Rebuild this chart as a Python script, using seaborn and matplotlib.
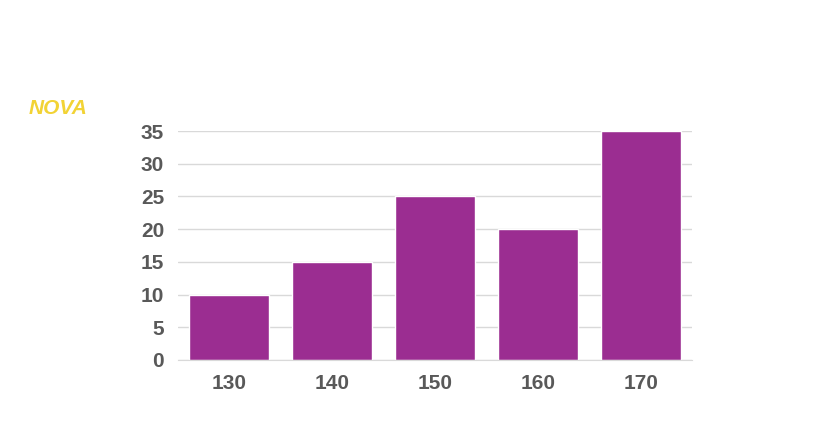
import matplotlib
matplotlib.use("Agg")
import matplotlib.pyplot as plt
import seaborn as sns
import pandas as pd

categories = ["130", "140", "150", "160", "170"]
values = [10, 15, 25, 20, 35]
yticks = [0, 5, 10, 15, 20, 25, 30, 35]

sns.set_style("white")
plt.rcParams['font.family'] = ['Liberation Sans', 'DejaVu Sans']

fig = plt.figure(figsize=(8.2, 4.46), dpi=100)
ax = fig.add_axes([0.217, 0.193, 0.627, 0.513])
df = pd.DataFrame({"cat": categories, "val": values})
sns.barplot(data=df, x="cat", y="val", color="#9B2D91", saturation=1, width=0.78, ax=ax)
ax.set_ylim(0, 35)
ax.set_yticks(yticks)
ax.yaxis.grid(True, color="#D9D9D9", linewidth=1)
ax.set_axisbelow(True)
ax.set_xlabel("")
ax.set_ylabel("")
for s in ["top", "right", "left"]:
    ax.spines[s].set_visible(False)
ax.spines["bottom"].set_color("#D9D9D9")
ax.tick_params(axis="both", length=0, labelsize=15, labelcolor="#595959", pad=10)
for lab in ax.get_xticklabels() + ax.get_yticklabels():
    lab.set_fontweight("bold")

fig.text(0.035, 0.745, "NOVA", color="#F2D335", fontsize=15, fontweight="bold", style="italic")
fig.savefig("out.png", dpi=100)
